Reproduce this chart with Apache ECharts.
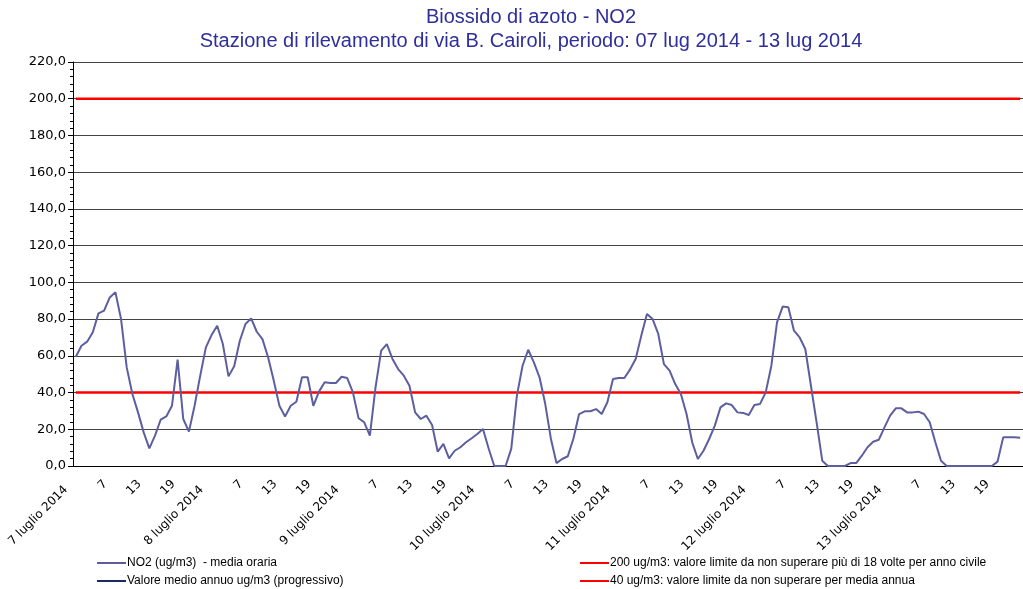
<!DOCTYPE html>
<html>
<head>
<meta charset="utf-8">
<title>NO2 - via B. Cairoli</title>
<script src="https://cdn.jsdelivr.net/npm/echarts@6/dist/echarts.min.js"></script>
<style>
  html, body { margin: 0; padding: 0; background: #fff; }
  #chart { width: 1023px; height: 589px; }
</style>
</head>
<body>
<div id="chart"></div>
<script>
// etichette asse x: giorno ogni 24 ore, poi le ore 7, 13, 19
var dayLabels = ['7 luglio 2014', '8 luglio 2014', '9 luglio 2014', '10 luglio 2014',
  '11 luglio 2014', '12 luglio 2014', '13 luglio 2014'];
var hourLabels = ['7', '13', '19'];

// NO2 media oraria (ug/m3), 168 ore dal 07/07 al 13/07
var no2 = [
  59.5, 65.5, 67.7, 72.8, 83.1, 84.6, 91.8, 94.6, 80.0, 53.7, 39.2, 29.2,
  18.3, 9.6, 16.5, 25.2, 27.0, 32.8, 57.9, 25.6, 18.7, 32.8, 49.2, 64.6,
  71.3, 76.4, 66.4, 48.8, 54.3, 68.2, 77.3, 80.4, 73.1, 69.1, 59.2, 46.5,
  32.8, 27.0, 32.8, 35.0, 48.3, 48.3, 32.8, 40.5, 45.6, 45.2, 45.2, 48.6,
  47.9, 40.1, 26.0, 23.8, 16.5, 42.8, 62.8, 66.4, 58.3, 52.8, 49.2, 43.7,
  29.2, 25.6, 27.4, 22.3, 7.8, 12.0, 4.2, 8.3, 10.2, 12.9, 15.1, 17.4,
  20.1, 9.5, 0, 0, 0, 9.3, 38.3, 54.6, 63.3, 56.4, 48.3, 34.0,
  15.0, 1.6, 3.8, 5.3, 15.0, 28.3, 29.8, 29.8, 31.0, 28.3, 34.7, 47.4,
  47.9, 47.9, 52.5, 58.3, 71.0, 82.8, 80.0, 71.9, 55.5, 51.9, 44.6, 39.2,
  28.3, 12.9, 3.8, 8.3, 14.7, 22.0, 31.9, 34.1, 33.2, 29.2, 28.9, 27.8,
  33.2, 33.8, 40.1, 54.6, 78.2, 86.8, 86.4, 73.7, 70.0, 63.7, 43.7, 23.8,
  2.9, 0, 0, 0, 0, 1.6, 1.6, 5.6, 10.2, 13.2, 14.3, 21.0,
  27.4, 31.4, 31.4, 29.2, 29.2, 29.6, 28.3, 23.8, 12.9, 2.9, 0, 0,
  0, 0, 0, 0, 0, 0, 0, 2.4, 15.6, 15.6, 15.6, 15.4
];
// media annua progressiva: nessun valore nel periodo
var mediaAnnua = [];
var limite200 = 200;
var limite40 = 40;

var nomi = [
  'NO2 (ug/m3)  - media oraria',
  'Valore medio annuo ug/m3 (progressivo)',
  '200 ug/m3: valore limite da non superare più di 18 volte per anno civile',
  '40 ug/m3: valore limite da non superare per media annua'
];

var categories = [];
for (var d = 0; d < dayLabels.length; d++) {
  for (var h = 0; h < 24; h++) {
    if (h === 0) categories.push(dayLabels[d]);
    else if (h === 6) categories.push(hourLabels[0]);
    else if (h === 12) categories.push(hourLabels[1]);
    else if (h === 18) categories.push(hourLabels[2]);
    else categories.push(String(h + 1));
  }
}
var line200 = categories.map(function () { return limite200; });
var line40 = categories.map(function () { return limite40; });

// una legenda per voce, disposte su due colonne come nell'originale
function voceLegenda(nome, left, top) {
  return {
    left: left,
    top: top,
    itemWidth: 29,
    itemHeight: 2,
    icon: 'rect',
    padding: 0,
    textStyle: { fontFamily: 'Liberation Sans', fontSize: 12, color: '#000', padding: [0, 0, 0, -4] },
    data: [nome]
  };
}

var myChart = echarts.init(document.getElementById('chart'));
var option = {
  animation: false,
  title: {
    text: 'Biossido di azoto - NO2\nStazione di rilevamento di via B. Cairoli, periodo: 07 lug 2014 - 13 lug 2014',
    left: 526,
    textAlign: 'center',
    top: 0,
    textStyle: {
      color: '#2f2f9c',
      fontFamily: 'Liberation Sans',
      fontWeight: 'normal',
      fontSize: 20,
      lineHeight: 24
    }
  },
  legend: [
    voceLegenda(nomi[0], 97, 557),
    voceLegenda(nomi[1], 97, 575),
    voceLegenda(nomi[2], 580, 557),
    voceLegenda(nomi[3], 580, 575)
  ],
  grid: {
    left: 73,
    top: 62,
    width: 961,   // il grafico originale e' tagliato a destra
    height: 404
  },
  xAxis: {
    type: 'category',
    data: categories,
    boundaryGap: true,
    axisLine: { lineStyle: { color: '#000', width: 1 } },
    axisTick: { interval: 5, length: 4, lineStyle: { color: '#000' } },
    axisLabel: {
      interval: 5,
      rotate: 45,
      margin: 12,
      color: '#000',
      fontFamily: 'DejaVu Sans',
      fontSize: 12,
      formatter: function (v) {
        return v.indexOf('luglio') >= 0 ? '{d|' + v + '}' : '{h|' + v + '}';
      },
      rich: {
        d: { padding: [0, 14, 0, 0] },
        h: { padding: [0, 6, 0, 0] }
      }
    },
    splitLine: { show: false }
  },
  yAxis: {
    type: 'value',
    min: 0,
    max: 220,
    interval: 20,
    axisLine: { show: true, lineStyle: { color: '#000', width: 1 } },
    axisTick: { show: true, length: 5, lineStyle: { color: '#000' } },
    minorTick: { show: true, splitNumber: 5, length: 3, lineStyle: { color: '#000' } },
    axisLabel: {
      margin: 7,
      color: '#000',
      fontFamily: 'DejaVu Sans',
      fontSize: 13,
      formatter: function (v) { return v.toFixed(1).replace('.', ','); }
    },
    splitLine: { show: true, lineStyle: { color: '#444', width: 1 } }
  },
  series: [
    {
      name: nomi[2],
      type: 'line',
      data: line200,
      symbol: 'none',
      color: '#ff0000',
      lineStyle: { color: '#ff0000', width: 2.5 },
      z: 2
    },
    {
      name: nomi[3],
      type: 'line',
      data: line40,
      symbol: 'none',
      color: '#ff0000',
      lineStyle: { color: '#ff0000', width: 2.5 },
      z: 2
    },
    {
      name: nomi[1],
      type: 'line',
      data: mediaAnnua,
      symbol: 'none',
      color: '#1c2a63',
      lineStyle: { color: '#1c2a63', width: 2 },
      z: 3
    },
    {
      name: nomi[0],
      type: 'line',
      data: no2,
      symbol: 'none',
      color: '#5c5f9f',
      lineStyle: { color: '#5c5f9f', width: 2 },
      z: 4
    }
  ]
};
myChart.setOption(option);
</script>
</body>
</html>
